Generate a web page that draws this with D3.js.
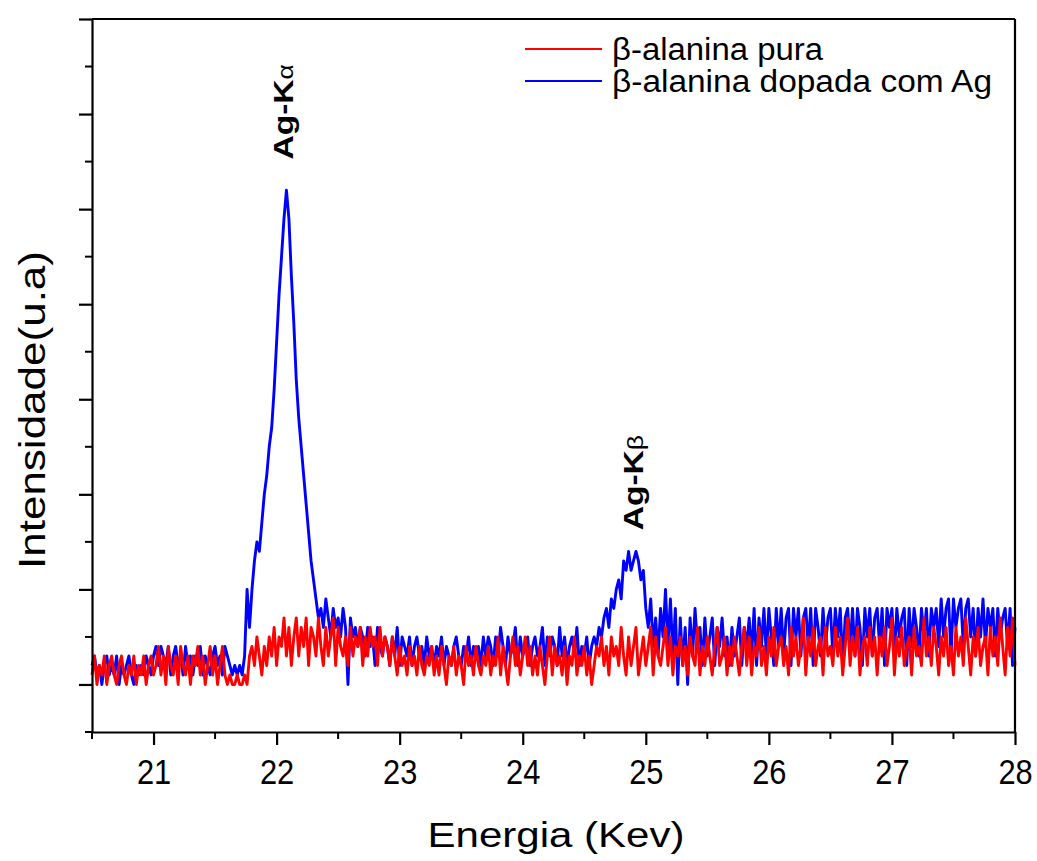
<!DOCTYPE html>
<html><head><meta charset="utf-8">
<script src="https://cdn.jsdelivr.net/npm/d3@7"></script>
<style>
body{margin:0;background:#fff}
svg{display:block}
text{font-family:"Liberation Sans",Arial,Helvetica,sans-serif;fill:#000}
</style>
</head><body>
<svg id="chart" width="1037" height="861"></svg>
<script>
// ---- data (counts; energy grid 20.50 .. 28.00 keV, step 0.02) ----
const energyStart = 20.5;
const energyStep = 0.02;

const countsDoped = [
  2,3,1,2,0,2,3,1,2,1,3,0,2,1,2,3,1,0,2,1,
  2,1,3,2,1,3,4,2,4,3,2,4,1,3,4,2,3,1,4,2,
  3,1,3,2,4,1,3,2,1,3,4,2,3,1,4,3,2,1,2,1,
  2,1,3,10,6,10,13,15,14,17,20,22,25,27,31,36,41,45,49,52,
  49,43,38,32,28,25,22,19,16,13,11,9,7,8,6,9,7,5,8,6,
  7,5,8,6,0,7,5,6,4,6,5,3,6,4,5,2,6,4,3,5,
  4,2,5,3,6,2,5,4,3,5,2,4,5,3,4,2,5,3,4,2,
  4,3,5,2,4,3,2,4,5,3,2,4,3,5,2,4,3,4,2,5,
  3,5,4,2,5,3,6,4,2,5,3,4,6,2,5,3,4,5,2,4,
  5,3,4,6,2,5,3,5,4,2,6,3,5,2,4,5,3,6,2,4,
  3,5,2,4,5,4,6,5,7,8,6,9,8,10,11,9,13,12,14,12,
  13,14,13,11,12,8,6,9,4,7,3,8,5,10,4,9,3,8,0,7,
  2,6,0,7,3,8,4,6,2,7,3,5,7,2,6,4,7,3,5,2,
  6,3,5,7,2,6,4,7,3,8,2,7,4,8,3,8,5,2,8,4,
  8,3,7,8,2,8,5,8,3,7,8,4,8,2,8,6,3,8,4,7,
  8,3,8,5,8,2,7,8,4,8,3,8,6,2,8,5,8,3,7,8,
  4,8,2,8,6,8,3,8,5,7,8,2,8,4,8,6,3,8,5,8,
  3,8,6,8,4,9,5,8,9,3,9,6,8,9,4,8,9,5,8,3,
  8,5,9,4,8,6,8,3,8,5,7,8,4,8,2,6
];

const countsPure = [
  1,3,0,2,1,3,0,2,3,1,0,2,3,1,0,2,1,3,0,2,
  1,3,0,2,3,1,2,4,1,3,0,4,2,1,3,0,4,2,1,3,
  0,3,2,4,1,3,0,2,4,1,3,0,2,4,1,0,1,0,0,1,
  0,0,1,0,3,4,2,5,3,1,4,2,5,3,6,2,5,4,7,3,
  6,2,5,7,3,6,4,7,2,6,5,3,7,4,2,6,3,5,7,2,
  6,4,3,5,2,6,3,5,4,6,2,5,3,6,4,5,2,6,3,5,
  4,2,5,3,1,4,2,3,1,4,2,3,1,4,2,1,3,2,4,1,
  3,1,4,2,0,3,2,4,1,3,2,0,4,2,3,1,4,2,1,3,
  2,4,1,3,2,5,1,4,2,0,3,5,2,4,1,3,5,2,4,1,
  3,1,4,2,0,3,5,1,4,2,3,1,4,0,3,2,5,1,3,2,
  4,1,3,0,2,4,3,5,2,4,1,5,3,4,2,6,3,1,5,2,
  4,6,1,3,5,2,4,6,1,5,3,2,4,6,2,5,1,4,3,5,
  2,4,1,5,3,2,6,1,4,2,5,3,1,4,6,2,3,5,1,4,
  2,5,3,1,4,6,2,5,1,4,3,6,2,4,1,5,3,6,2,4,
  5,2,4,1,6,3,5,2,4,7,1,5,3,6,2,4,5,1,6,3,
  4,2,6,3,5,1,4,7,2,5,3,6,1,4,5,2,6,3,5,1,
  5,3,6,2,4,7,1,5,3,6,2,4,5,1,6,3,4,2,7,3,
  5,2,6,4,1,5,3,6,2,4,1,6,3,5,2,7,4,1,5,3,
  6,2,4,5,1,6,3,5,2,7,4,1,6,3,7,2
];

const seriesNames = ["β-alanina pura", "β-alanina dopada com Ag"];
const seriesColors = ["#ff0000", "#0000ff"];
const xTickValues = [21, 22, 23, 24, 25, 26, 27, 28];
const xMinorValues = [20.5, 21.5, 22.5, 23.5, 24.5, 25.5, 26.5, 27.5];
const yMajorValues = [0, 10, 20, 30, 40, 50, 60, 70];
const yMinorValues = [-5, 5, 15, 25, 35, 45, 55, 65];
const peakLabels = [
  {main: "Ag-K", greek: "α", energy: 22.08, count: 53},
  {main: "Ag-K", greek: "β", energy: 24.92, count: 14}
];
const xTitle = "Energia (Kev)";
const yTitle = "Intensidade(u.a)";

// ---- drawing ----
const svg = d3.select("#chart");
const x = d3.scaleLinear().domain([20.5, 28]).range([92, 1015]);
const y = d3.scaleLinear().domain([-5, 70]).range([732, 19]);

const toPoints = arr => arr.map((c, i) => ({e: energyStart + i * energyStep, c}));
const line = d3.line().x(d => x(d.e)).y(d => y(d.c));

const plot = svg.append("g");
plot.append("path").datum(toPoints(countsDoped))
  .attr("d", line).attr("fill", "none").attr("stroke", seriesColors[1])
  .attr("stroke-width", 2.9).attr("stroke-linejoin", "round");
plot.append("path").datum(toPoints(countsPure))
  .attr("d", line).attr("fill", "none").attr("stroke", seriesColors[0])
  .attr("stroke-width", 2.9).attr("stroke-linejoin", "round");

// frame (top & right)
svg.append("line").attr("x1", x(20.5)).attr("x2", x(28)).attr("y1", y(70)).attr("y2", y(70))
  .attr("stroke", "#000").attr("stroke-width", 2.2);
svg.append("line").attr("x1", x(28)).attr("x2", x(28)).attr("y1", y(70)).attr("y2", y(-5))
  .attr("stroke", "#000").attr("stroke-width", 2.2);

// x axis
const xAxis = svg.append("g").attr("transform", `translate(0,${y(-5)})`)
  .call(d3.axisBottom(x).tickValues(xTickValues).tickSize(13).tickPadding(14)
    .tickFormat(d3.format("d")).tickSizeOuter(0));
xAxis.append("g").selectAll("line").data(xMinorValues).join("line")
  .attr("x1", d => x(d)).attr("x2", d => x(d)).attr("y1", 0).attr("y2", 7)
  .attr("stroke", "#000").attr("stroke-width", 2);
xAxis.select(".domain").attr("stroke-width", 2.2);
xAxis.selectAll(".tick line").attr("stroke-width", 2.2);
xAxis.selectAll(".tick text").attr("font-size", 35).attr("transform", "scale(0.88,1)")
  .attr("font-family", "'Liberation Sans',Arial,sans-serif").attr("fill", "#111");

// y axis
const yAxis = svg.append("g").attr("transform", `translate(${x(20.5)},0)`)
  .call(d3.axisLeft(y).tickValues(yMajorValues).tickSize(13).tickFormat("").tickSizeOuter(0));
yAxis.append("g").selectAll("line").data(yMinorValues).join("line")
  .attr("x1", 0).attr("x2", -7).attr("y1", d => y(d)).attr("y2", d => y(d))
  .attr("stroke", "#000").attr("stroke-width", 2);
yAxis.select(".domain").attr("stroke-width", 2.2);
yAxis.selectAll(".tick line").attr("stroke-width", 2.2);

// axis titles
svg.append("text").attr("x", 556).attr("y", 847).attr("text-anchor", "middle")
  .attr("font-size", 35).attr("textLength", 257).attr("lengthAdjust", "spacingAndGlyphs")
  .attr("fill", "#111").text(xTitle);
svg.append("text").attr("transform", "translate(45,410) rotate(-90)").attr("text-anchor", "middle")
  .attr("font-size", 37).attr("textLength", 318).attr("lengthAdjust", "spacingAndGlyphs")
  .attr("fill", "#111").text(yTitle);

// peak labels
peakLabels.forEach(p => {
  const t = svg.append("text")
    .attr("transform", `translate(${x(p.energy) + 7},${y(p.count) - 21}) rotate(-90) scale(1.2,1)`)
    .attr("font-size", 28).attr("font-weight", "bold");
  t.append("tspan").text(p.main);
  t.append("tspan").attr("font-weight", "normal").attr("font-size", 22).text(p.greek);
});

// legend
const legendRows = [49, 81];
seriesNames.forEach((name, i) => {
  svg.append("line").attr("x1", 525).attr("x2", 602).attr("y1", legendRows[i]).attr("y2", legendRows[i])
    .attr("stroke", seriesColors[i]).attr("stroke-width", 2.2);
  svg.append("text").attr("x", 612).attr("y", legendRows[i] + 11).attr("font-size", 31)
    .attr("textLength", i === 0 ? 211 : 380).attr("lengthAdjust", "spacingAndGlyphs")
    .attr("fill", "#111").text(name);
});
</script>
</body></html>
